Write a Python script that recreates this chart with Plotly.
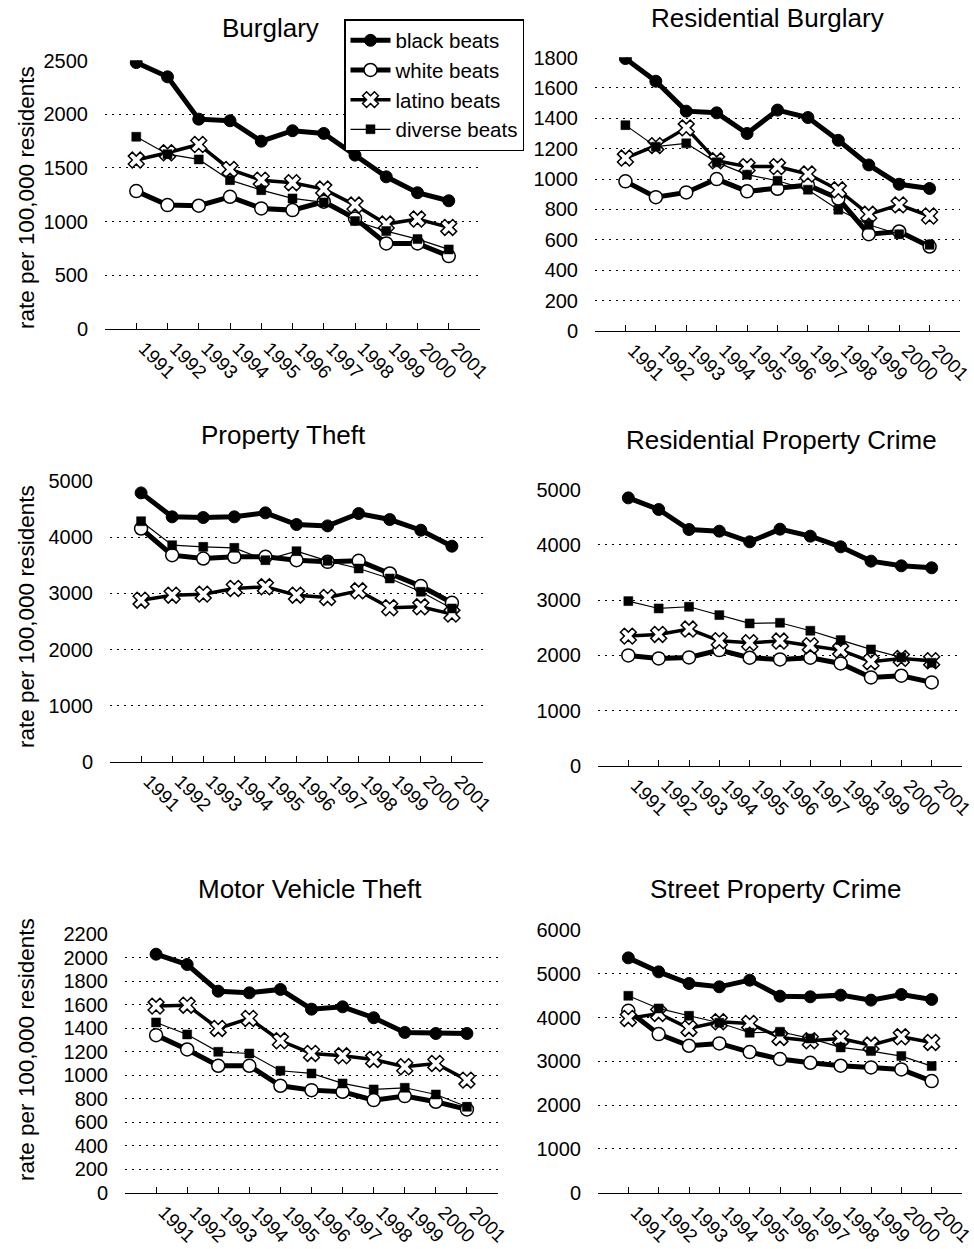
import plotly.graph_objects as go

years = ['1991', '1992', '1993', '1994', '1995', '1996', '1997', '1998', '1999', '2000', '2001']
series_names = ['black beats', 'white beats', 'latino beats', 'diverse beats']

burglary_black = [2481, 2348, 1954, 1939, 1749, 1846, 1821, 1619, 1417, 1269, 1194]
burglary_white = [1284, 1154, 1148, 1231, 1123, 1107, 1185, 1030, 797, 797, 679]
burglary_latino = [1573, 1641, 1718, 1486, 1386, 1362, 1303, 1154, 977, 1024, 946]
burglary_diverse = [1790, 1628, 1579, 1386, 1293, 1216, 1179, 1005, 912, 837, 741]

resburg_black = [1793, 1644, 1447, 1436, 1300, 1454, 1405, 1255, 1093, 966, 938]
resburg_white = [985, 881, 912, 1000, 919, 936, 960, 872, 637, 655, 556]
resburg_latino = [1138, 1220, 1337, 1120, 1082, 1082, 1033, 929, 768, 830, 757]
resburg_diverse = [1355, 1213, 1235, 1110, 1029, 989, 930, 798, 699, 637, 567]

propt_black = [4792, 4365, 4353, 4365, 4436, 4228, 4204, 4424, 4317, 4127, 3842]
propt_white = [4157, 3682, 3622, 3652, 3652, 3593, 3563, 3581, 3355, 3130, 2833]
propt_latino = [2880, 2969, 2987, 3088, 3118, 2969, 2928, 3046, 2744, 2761, 2631]
propt_diverse = [4287, 3860, 3830, 3812, 3593, 3753, 3581, 3444, 3266, 3029, 2732]

resprop_black = [4849, 4639, 4277, 4247, 4054, 4283, 4157, 3964, 3705, 3620, 3584]
resprop_white = [2000, 1946, 1964, 2096, 1958, 1928, 1958, 1855, 1602, 1633, 1512]
resprop_latino = [2349, 2380, 2476, 2265, 2229, 2259, 2175, 2096, 1886, 1946, 1904]
resprop_diverse = [2982, 2849, 2880, 2729, 2578, 2590, 2446, 2277, 2108, 1964, 1867]

mvt_black = [2030, 1942, 1715, 1701, 1730, 1562, 1582, 1489, 1364, 1355, 1355]
mvt_white = [1341, 1219, 1080, 1080, 910, 873, 859, 788, 822, 774, 709]
mvt_latino = [1588, 1596, 1398, 1483, 1293, 1185, 1165, 1134, 1072, 1100, 958]
mvt_diverse = [1449, 1347, 1199, 1185, 1038, 1015, 930, 879, 893, 836, 731]

street_black = [5368, 5048, 4782, 4706, 4858, 4493, 4478, 4516, 4402, 4531, 4417]
street_white = [4158, 3625, 3358, 3412, 3214, 3054, 2970, 2902, 2864, 2818, 2551]
street_latino = [3983, 4097, 3755, 3907, 3869, 3549, 3473, 3526, 3374, 3564, 3435]
street_diverse = [4501, 4212, 4044, 3884, 3656, 3679, 3526, 3321, 3237, 3123, 2894]

panel_titles = ['Burglary', 'Residential Burglary', 'Property Theft',
                'Residential Property Crime', 'Motor Vehicle Theft', 'Street Property Crime']
panel_data = [
    [burglary_black, burglary_white, burglary_latino, burglary_diverse],
    [resburg_black, resburg_white, resburg_latino, resburg_diverse],
    [propt_black, propt_white, propt_latino, propt_diverse],
    [resprop_black, resprop_white, resprop_latino, resprop_diverse],
    [mvt_black, mvt_white, mvt_latino, mvt_diverse],
    [street_black, street_white, street_latino, street_diverse],
]
y_max = [2500, 1800, 5000, 5000, 2200, 6000]
y_step = [500, 200, 1000, 1000, 200, 1000]
y_title = 'rate per 100,000 residents'

W, H = 974, 1249
# plot areas in pixels: x0, x1, y_top, y_bottom
areas = [
    (105, 480, 60.3, 329),
    (595, 960, 57.3, 331),
    (110, 483, 481, 761.7),
    (598, 962, 489.3, 766),
    (125, 498, 934, 1192.7),
    (598, 962, 930, 1192.7),
]
title_pos = [(270, 28), (767, 18), (283, 435), (781, 440), (310, 889), (775, 889)]
ytitle_pos = [(26, 198), None, (26, 617), None, (26, 1050), None]

FONT = 'Liberation Sans, Arial, sans-serif'

styles = [
    dict(line=dict(color='black', width=5),
         marker=dict(symbol='circle', size=12, color='black', line=dict(color='black', width=1))),
    dict(line=dict(color='black', width=5),
         marker=dict(symbol='circle', size=13, color='white', line=dict(color='black', width=1.5))),
    dict(line=dict(color='black', width=3.5),
         marker=dict(symbol='x', size=14, color='white', line=dict(color='black', width=1.5))),
    dict(line=dict(color='black', width=1.2),
         marker=dict(symbol='square', size=9, color='black', line=dict(color='black', width=0.5))),
]

fig = go.Figure()
annotations = []
for i in range(6):
    xa = 'x' if i == 0 else f'x{i+1}'
    ya = 'y' if i == 0 else f'y{i+1}'
    for s in range(4):
        fig.add_trace(go.Scatter(
            x=years, y=panel_data[i][s], mode='lines+markers', name=series_names[s],
            xaxis=xa, yaxis=ya, showlegend=(i == 0), **styles[s]))
    x0, x1, yt, yb = areas[i]
    xkey = 'xaxis' if i == 0 else f'xaxis{i+1}'
    ykey = 'yaxis' if i == 0 else f'yaxis{i+1}'
    fig.update_layout({
        xkey: dict(domain=[x0 / W, x1 / W], anchor=ya, type='category', range=[-1, 11],
                   showgrid=False, showline=True, linecolor='black', linewidth=1,
                   ticks='inside', ticklen=6, tickcolor='black', tickwidth=1,
                   tickangle=45, tickfont=dict(size=19, family=FONT, color='black'),
                   ticklabelstandoff=0, ticklabelshift=8, zeroline=False, automargin=False),
        ykey: dict(domain=[1 - yb / H, 1 - yt / H], anchor=xa,
                   range=[0, y_max[i] * 1.0008], dtick=y_step[i], tick0=0,
                   showgrid=True, gridcolor='black', gridwidth=1, griddash='2px,5px',
                   zeroline=False, showline=False, ticks='outside', ticklen=12,
                   tickcolor='rgba(0,0,0,0)', automargin=False,
                   tickfont=dict(size=20, family=FONT, color='black')),
    })
    tx, ty = title_pos[i]
    annotations.append(dict(text=panel_titles[i], x=tx / W, y=1 - ty / H, xref='paper', yref='paper',
                            showarrow=False, xanchor='center', yanchor='middle',
                            font=dict(size=26, family=FONT, color='black')))
    if ytitle_pos[i] is not None:
        ax_, ay_ = ytitle_pos[i]
        annotations.append(dict(text=y_title, x=ax_ / W, y=1 - ay_ / H, xref='paper', yref='paper',
                                showarrow=False, xanchor='center', yanchor='middle', textangle=-90,
                                font=dict(size=22.5, family=FONT, color='black')))

fig.update_layout(
    width=W, height=H, margin=dict(l=0, r=0, t=0, b=0, autoexpand=False),
    paper_bgcolor='white', plot_bgcolor='white',
    font=dict(family=FONT, color='black'),
    annotations=annotations,
    legend=dict(x=344 / W, y=1 - 19 / H, xanchor='left', yanchor='top',
                bgcolor='white', bordercolor='black', borderwidth=1.5,
                font=dict(size=20.5, family=FONT, color='black'),
                itemwidth=40, tracegroupgap=0),
)

fig.write_html('out.html', config={'displayModeBar': False},
               post_script="document.body.style.margin='0px';")
